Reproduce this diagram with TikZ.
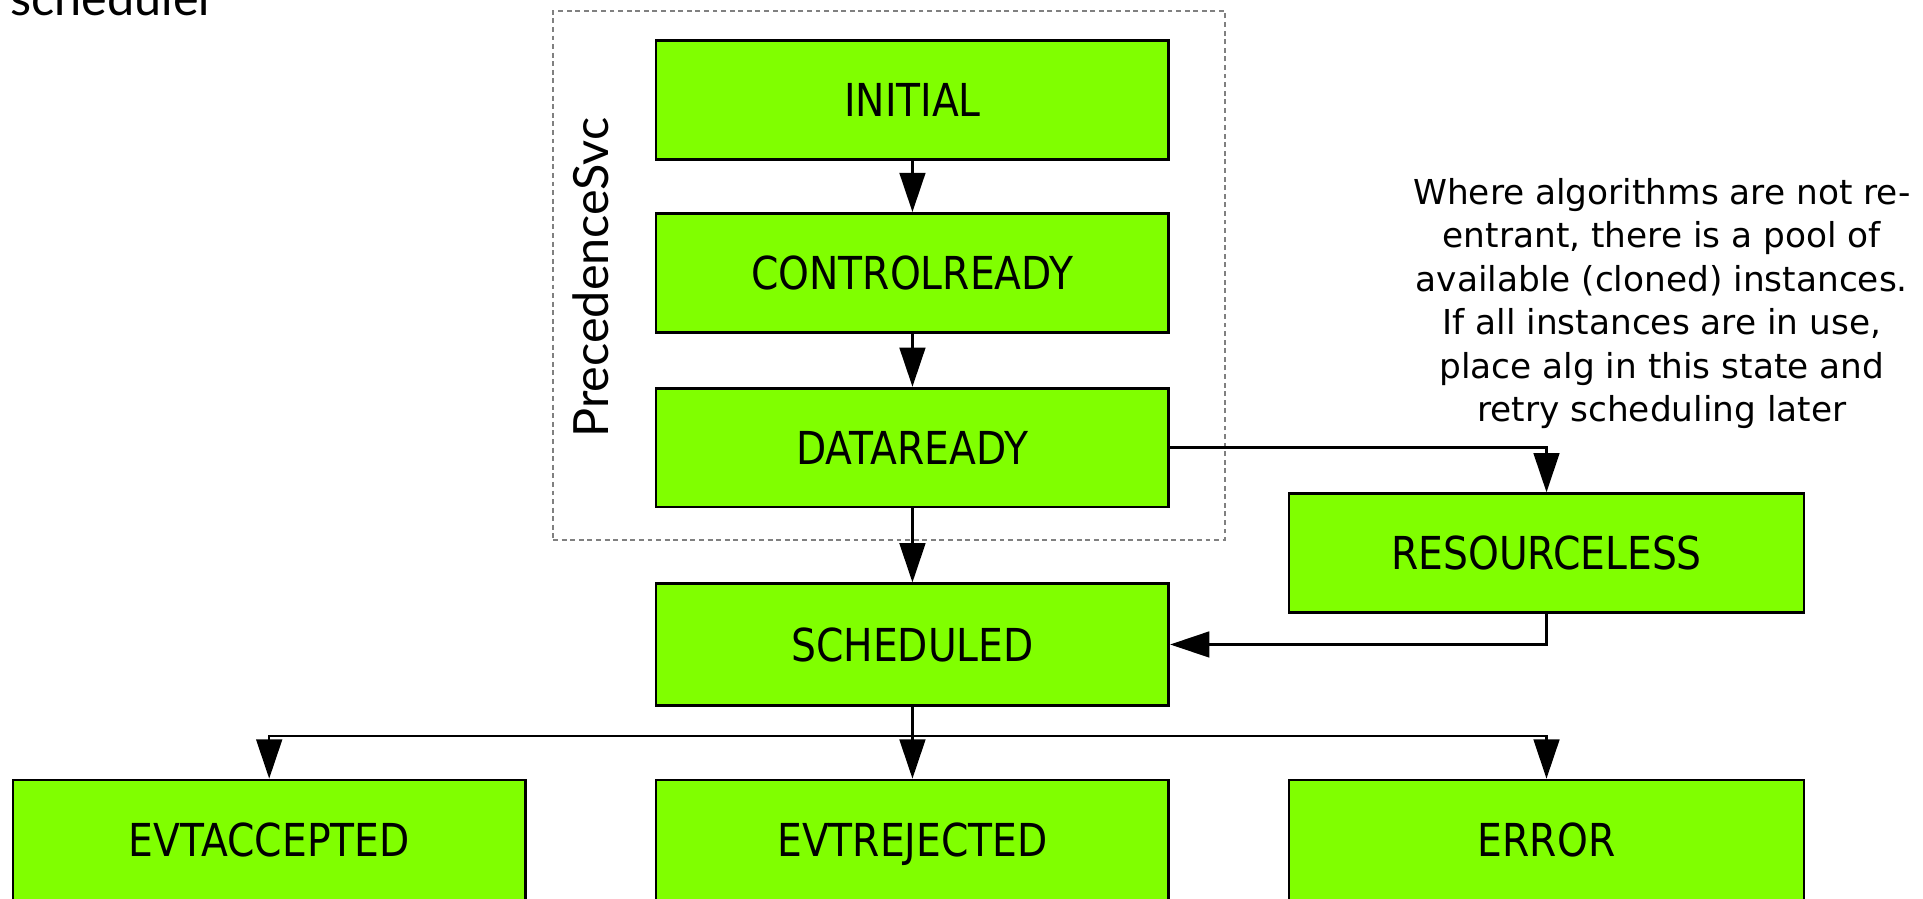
\documentclass[tikz,border=0pt]{standalone}
\usepackage{fontspec}
\usetikzlibrary{arrows.meta}
\newfontfamily\boxfont[FakeStretch=0.865]{DejaVu Sans}
\newfontfamily\notefont{DejaVu Sans}
\newfontfamily\titlefont{Lato}
\definecolor{stategreen}{RGB}{128,255,0}
\definecolor{framegray}{RGB}{128,128,128}

\begin{document}
\begin{tikzpicture}[x=0.5pt,y=-0.5pt,
  state/.style={draw=black, line width=1.1pt, fill=stategreen,
    minimum width=209pt, minimum height=48.5pt, inner sep=0pt,
    text height=13.5pt, text depth=0pt,
    font=\boxfont\fontsize{18.5}{22}\selectfont},
  flow/.style={line width=1pt, -{Triangle[length=16pt,width=10.5pt]}},
  link/.style={line width=1pt},
  svcframe/.style={draw=framegray, line width=0.85pt,
    dash pattern=on 2pt off 1.5pt, inner sep=0pt,
    minimum width=274pt, minimum height=215.5pt},
  heading/.style={inner sep=0pt, font=\titlefont\fontsize{19.8}{24}\selectfont},
]
\useasboundingbox (0,0) rectangle (1568,733);
\clip (0,0) rectangle (1568,733);

% service frame and its titles
\node[svcframe] (svc) at (725,224.5) {};
\node[heading, rotate=90, anchor=base] (svclabel) at (496,226.5) {PrecedenceSvc};
\node[heading, anchor=base west] (schedlabel) at (8,13) {scheduler};

% states
\node[state] (init)  at (744,81.5)  {INITIAL};
\node[state] (ctrl)  at (744,222.5) {CONTROLREADY};
\node[state] (data)  at (744,365)   {DATAREADY};
\node[state, minimum height=49.5pt] (sched) at (744,525.5) {SCHEDULED};
\node[state, minimum width=210pt] (resl) at (1261,451) {RESOURCELESS};
\node[state, minimum height=49pt] (acc) at (219.5,685) {EVTACCEPTED};
\node[state, minimum height=49pt] (rej) at (744,685)   {EVTREJECTED};
\node[state, minimum width=210pt, minimum height=49pt] (err) at (1261,685) {ERROR};

% note on the resourceless state (anchored at the baseline of its last line)
\node[align=center, inner sep=0pt, anchor=base,
  font=\notefont\fontsize{14}{17.75}\selectfont] (note) at (1355,344)
  {Where algorithms are not re-\\entrant, there is a pool of\\available (cloned) instances.\\If all instances are in use,\\place alg in this state and\\retry scheduling later};

% transitions
\draw[flow] (init) -- (ctrl);
\draw[flow] (ctrl) -- (data);
\draw[flow] (data) -- (sched);
\draw[flow] (data.east) -| (resl.north);
\draw[flow] (resl.south) |- (sched.east);

\coordinate (fork) at (744,600);
\draw[link] (sched.south) -- (fork);
\draw[flow] (fork) -| (acc.north);
\draw[flow] (fork) -- (rej.north);
\draw[flow] (fork) -| (err.north);
\end{tikzpicture}
\end{document}
